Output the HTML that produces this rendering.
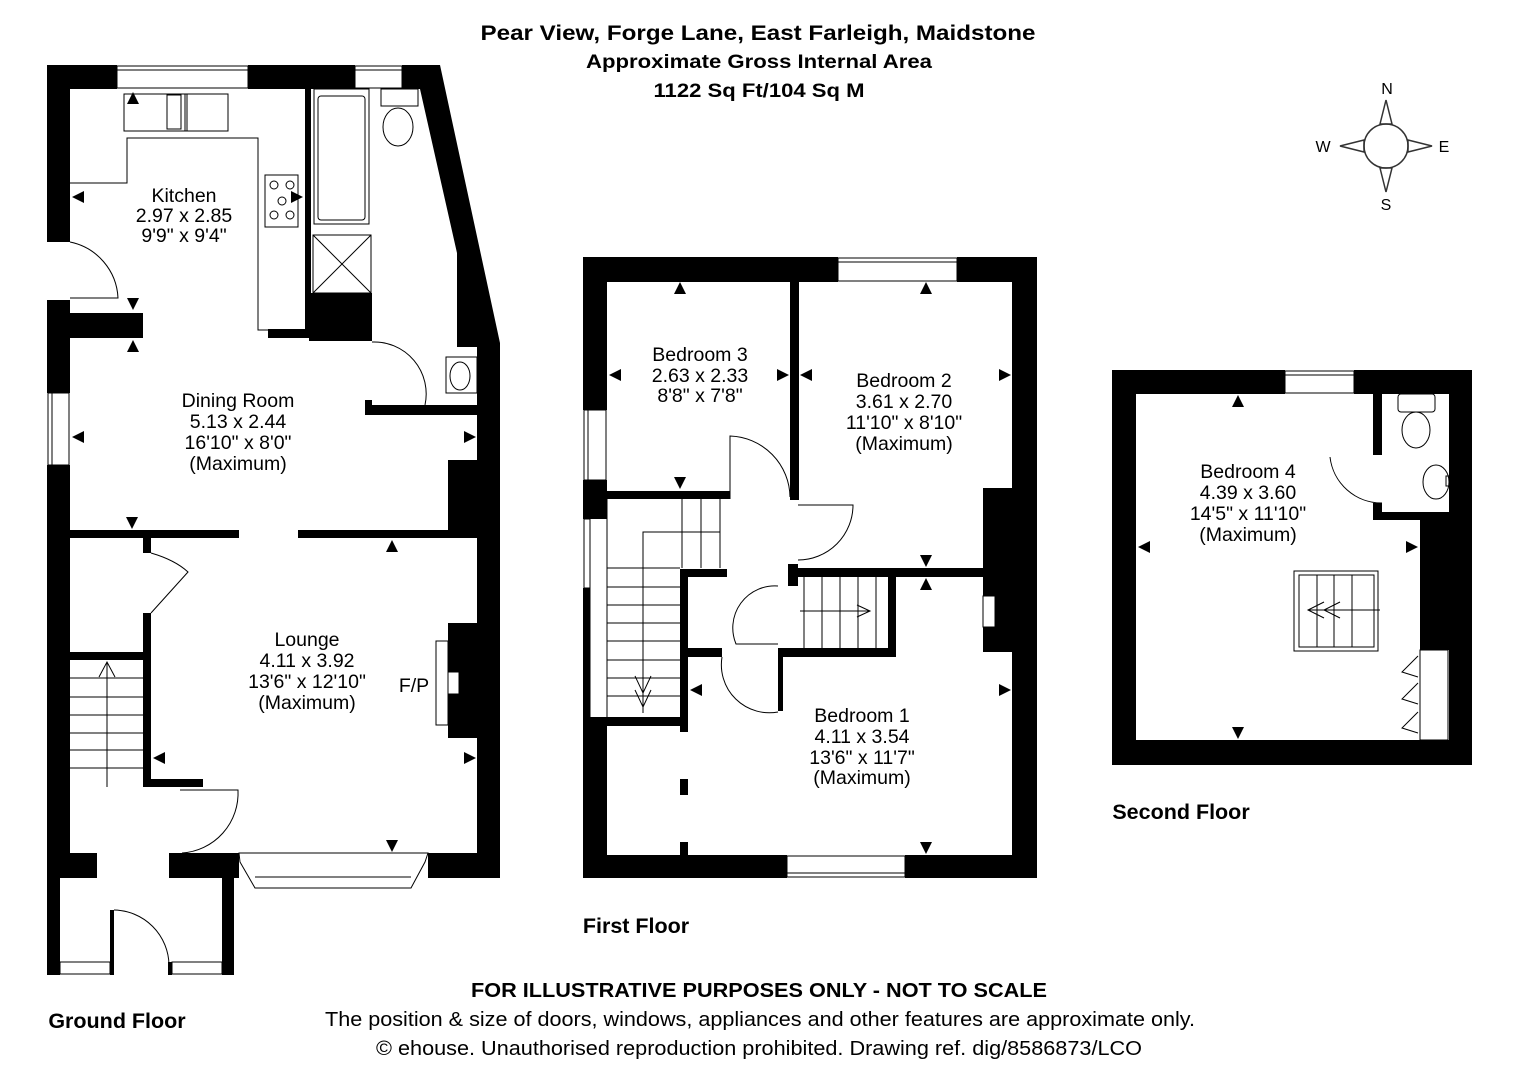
<!DOCTYPE html>
<html><head><meta charset="utf-8"><style>
html,body{margin:0;padding:0;background:#fff;}
svg{display:block;font-family:"Liberation Sans",sans-serif;}
</style></head><body>
<svg width="1526" height="1080" viewBox="0 0 1526 1080" xmlns="http://www.w3.org/2000/svg">
<rect width="1526" height="1080" fill="#fff"/>
<!-- Title -->
<g font-weight="bold" fill="#000" text-anchor="middle">
<text x="758" y="40" font-size="21" textLength="555" lengthAdjust="spacingAndGlyphs">Pear View, Forge Lane, East Farleigh, Maidstone</text>
<text x="759" y="68" font-size="19" textLength="346" lengthAdjust="spacingAndGlyphs">Approximate Gross Internal Area</text>
<text x="759" y="97" font-size="19" textLength="211" lengthAdjust="spacingAndGlyphs">1122 Sq Ft/104 Sq M</text>
</g>
<!-- Compass -->
<g stroke="#333" stroke-width="1.5" fill="none">
<circle cx="1386" cy="146" r="22"/>
<polygon points="1380,124 1386,100 1392,124"/>
<polygon points="1380,168 1386,192 1392,168"/>
<polygon points="1364,140 1340,146 1364,152"/>
<polygon points="1408,140 1432,146 1408,152"/>
</g>
<g font-size="16" fill="#000" text-anchor="middle">
<text x="1387" y="94">N</text><text x="1386" y="210">S</text><text x="1323" y="152">W</text><text x="1444" y="152">E</text>
</g>

<!-- ================= GROUND FLOOR ================= -->
<g fill="#000">
<rect x="47" y="65" width="70" height="24"/>
<rect x="248" y="65" width="107" height="24"/>
<polygon points="402,65 440,65 500,343 500,878 477,878 477,347 457,347 457,253 420,89 402,89"/>
<rect x="47" y="65" width="23" height="177"/>
<rect x="47" y="300" width="23" height="93"/>
<rect x="47" y="465" width="23" height="413"/>
<rect x="70" y="313" width="73" height="25"/>
<rect x="305" y="89" width="6" height="249"/>
<rect x="309" y="293" width="63" height="48"/>
<rect x="268" y="329" width="104" height="9"/>
<rect x="365" y="400" width="7" height="15"/>
<rect x="365" y="405" width="112" height="10"/>
<rect x="448" y="460" width="29" height="78"/>
<rect x="70" y="530" width="169" height="8"/>
<rect x="298" y="530" width="179" height="8"/>
<rect x="143" y="538" width="8" height="15"/>
<rect x="143" y="613" width="8" height="174"/>
<rect x="70" y="652" width="80" height="8"/>
<rect x="143" y="779" width="60" height="8"/>
<rect x="448" y="623" width="29" height="115"/>
<rect x="47" y="853" width="50" height="25"/>
<rect x="169" y="853" width="70" height="25"/>
<rect x="428" y="853" width="72" height="25"/>
<rect x="47" y="878" width="13" height="97"/>
<rect x="222" y="878" width="12" height="97"/>
<rect x="110" y="910" width="4" height="65"/>
<rect x="168" y="962" width="4" height="13"/>
</g>
<g fill="#fff" stroke="#000" stroke-width="1">
<rect x="448" y="672" width="11" height="22"/>
<rect x="436" y="641" width="12" height="84"/>
<rect x="60" y="962" width="50" height="12"/>
<rect x="172" y="962" width="50" height="12"/>
</g>
<g fill="none" stroke="#000" stroke-width="1">
<rect x="117" y="66" width="131" height="22"/><line x1="117" y1="70" x2="248" y2="70"/>
<rect x="355" y="66" width="47" height="22"/><line x1="355" y1="70" x2="402" y2="70"/>
<rect x="48" y="393" width="21" height="72"/><line x1="52" y1="393" x2="52" y2="465"/>
<polygon points="239,853 428,853 425,862 411,888 255,888 240,862"/>
<line x1="255" y1="877" x2="411" y2="877"/>
<polyline points="70,183 127,183 127,138 258,138 258,330 268,330"/>
<rect x="124" y="94" width="63" height="37"/><rect x="167" y="95" width="14" height="34"/><rect x="185" y="94" width="43" height="37"/>
<rect x="265" y="175" width="33" height="52"/>
<circle cx="274" cy="185" r="4"/><circle cx="290" cy="185" r="4"/><circle cx="282" cy="201" r="4"/><circle cx="274" cy="215" r="4"/><circle cx="290" cy="215" r="4"/>
<rect x="314" y="89" width="55" height="135"/><rect x="318" y="96" width="47" height="124" rx="3"/>
<rect x="313" y="235" width="58" height="58"/><line x1="313" y1="235" x2="371" y2="293"/><line x1="371" y1="235" x2="313" y2="293"/>
<rect x="381" y="89" width="37" height="17"/><ellipse cx="398" cy="127" rx="15" ry="19"/>
<rect x="446" y="357" width="31" height="36"/><ellipse cx="460" cy="376" rx="10" ry="14"/>
<path d="M70,242 A60,60 0 0 1 118,298 L70,298"/>
<path d="M372,342 A52,52 0 0 1 425,405"/>
<path d="M151,553 Q175,560 188,572 L151,613"/>
<path d="M180,790 L238,790 A60,60 0 0 1 182,853"/>
<path d="M114,910 A56,56 0 0 1 169,965"/>
<line x1="70" y1="678" x2="143" y2="678"/><line x1="70" y1="697" x2="143" y2="697"/><line x1="70" y1="715" x2="143" y2="715"/><line x1="70" y1="733" x2="143" y2="733"/><line x1="70" y1="750" x2="143" y2="750"/><line x1="70" y1="768" x2="143" y2="768"/>
<line x1="107" y1="787" x2="107" y2="662"/><polyline points="99,677 107,662 115,677"/>
</g>
<g fill="#000">
<polygon points="133,92 127,104 139,104"/>
<polygon points="72,197 84,191 84,203"/>
<polygon points="303,197 291,191 291,203"/>
<polygon points="133,310 127,298 139,298"/>
<polygon points="133,340 127,352 139,352"/>
<polygon points="72,437 84,431 84,443"/>
<polygon points="476,437 464,431 464,443"/>
<polygon points="132,529 126,517 138,517"/>
<polygon points="392,540 386,552 398,552"/>
<polygon points="392,852 386,840 398,840"/>
<polygon points="153,758 165,752 165,764"/>
<polygon points="476,758 464,752 464,764"/>
</g>
<g font-size="19.5" fill="#000" text-anchor="middle">
<text x="184" y="202">Kitchen</text><text x="184" y="222">2.97 x 2.85</text><text x="184" y="242">9'9" x 9'4"</text>
<text x="238" y="407">Dining Room</text><text x="238" y="428">5.13 x 2.44</text><text x="238" y="449">16'10" x 8'0"</text><text x="238" y="470">(Maximum)</text>
<text x="307" y="646">Lounge</text><text x="307" y="667">4.11 x 3.92</text><text x="307" y="688">13'6" x 12'10"</text><text x="307" y="709">(Maximum)</text>
<text x="414" y="692">F/P</text>
</g>
<text x="117" y="1028" font-size="21.5" font-weight="bold" text-anchor="middle">Ground Floor</text>

<!-- ================= FIRST FLOOR ================= -->
<g fill="#000">
<rect x="583" y="257" width="255" height="25"/>
<rect x="957" y="257" width="80" height="25"/>
<rect x="583" y="257" width="24" height="153"/>
<rect x="583" y="480" width="24" height="39"/>
<rect x="583" y="588" width="7" height="132"/>
<rect x="583" y="717" width="24" height="161"/>
<rect x="1012" y="257" width="25" height="621"/>
<rect x="583" y="855" width="204" height="23"/>
<rect x="905" y="855" width="132" height="23"/>
<rect x="790" y="282" width="9" height="218"/>
<rect x="583" y="491" width="147" height="8"/>
<rect x="788" y="568" width="195" height="9"/>
<rect x="788" y="564" width="10" height="22"/>
<rect x="983" y="488" width="29" height="164"/>
<rect x="680" y="569" width="47" height="8"/>
<rect x="680" y="569" width="8" height="163"/>
<rect x="598" y="717" width="90" height="9"/>
<rect x="688" y="648" width="34" height="9"/>
<rect x="778" y="648" width="118" height="9"/>
<rect x="778" y="648" width="5" height="63"/>
<rect x="888" y="577" width="8" height="79"/>
<rect x="680" y="779" width="8" height="16"/>
<rect x="680" y="842" width="8" height="15"/>
</g>
<g fill="#fff" stroke="#000" stroke-width="1">
<rect x="983" y="596" width="12" height="31"/>
</g>
<g fill="none" stroke="#000" stroke-width="1">
<rect x="838" y="258" width="119" height="23"/><line x1="838" y1="262" x2="957" y2="262"/>
<rect x="787" y="856" width="118" height="21"/><line x1="787" y1="873" x2="905" y2="873"/>
<rect x="584" y="410" width="22" height="70"/><line x1="588" y1="410" x2="588" y2="480"/>
<rect x="584" y="519" width="6" height="69"/>
<line x1="590" y1="499" x2="590" y2="717"/>
<polyline points="607,568 680,568"/>
<line x1="607" y1="499" x2="607" y2="717"/>
<line x1="682" y1="499" x2="682" y2="568"/><line x1="701" y1="499" x2="701" y2="568"/><line x1="720" y1="499" x2="720" y2="568"/>
<line x1="607" y1="587" x2="680" y2="587"/><line x1="607" y1="605" x2="680" y2="605"/><line x1="607" y1="623" x2="680" y2="623"/><line x1="607" y1="641" x2="680" y2="641"/><line x1="607" y1="660" x2="680" y2="660"/><line x1="607" y1="678" x2="680" y2="678"/><line x1="607" y1="696" x2="680" y2="696"/>
<polyline points="643,713 643,532 720,532"/>
<polyline points="635,676 643,693 651,676"/><polyline points="635,690 643,707 651,690"/>
<line x1="804" y1="577" x2="804" y2="648"/><line x1="822" y1="577" x2="822" y2="648"/><line x1="840" y1="577" x2="840" y2="648"/><line x1="858" y1="577" x2="858" y2="648"/><line x1="876" y1="577" x2="876" y2="648"/>
<line x1="800" y1="611" x2="870" y2="611"/><polyline points="857,605 870,611 857,617"/>
<path d="M730,499 L730,436 A62,62 0 0 1 790,497"/>
<path d="M798,505 L853,505 A55,55 0 0 1 798,560"/>
<path d="M778,644 L736,644 A42,42 0 0 1 778,586"/>
<path d="M722,657 A48,48 0 0 0 778,712"/>
</g>
<g fill="#000">
<polygon points="680,282 674,294 686,294"/>
<polygon points="680,489 674,477 686,477"/>
<polygon points="609,375 621,369 621,381"/>
<polygon points="789,375 777,369 777,381"/>
<polygon points="926,282 920,294 932,294"/>
<polygon points="926,567 920,555 932,555"/>
<polygon points="800,375 812,369 812,381"/>
<polygon points="1011,375 999,369 999,381"/>
<polygon points="926,578 920,590 932,590"/>
<polygon points="926,854 920,842 932,842"/>
<polygon points="690,690 702,684 702,696"/>
<polygon points="1011,690 999,684 999,696"/>
</g>
<g font-size="19.5" fill="#000" text-anchor="middle">
<text x="700" y="361">Bedroom 3</text><text x="700" y="382">2.63 x 2.33</text><text x="700" y="402">8'8" x 7'8"</text>
<text x="904" y="387">Bedroom 2</text><text x="904" y="408">3.61 x 2.70</text><text x="904" y="429">11'10" x 8'10"</text><text x="904" y="450">(Maximum)</text>
<text x="862" y="722">Bedroom 1</text><text x="862" y="743">4.11 x 3.54</text><text x="862" y="764">13'6" x 11'7"</text><text x="862" y="784">(Maximum)</text>
</g>
<text x="636" y="933" font-size="21.5" font-weight="bold" text-anchor="middle">First Floor</text>

<!-- ================= SECOND FLOOR ================= -->
<g fill="#000">
<rect x="1112" y="370" width="173" height="24"/>
<rect x="1354" y="370" width="118" height="24"/>
<rect x="1112" y="370" width="24" height="395"/>
<rect x="1449" y="370" width="23" height="395"/>
<rect x="1112" y="740" width="360" height="25"/>
<rect x="1373" y="394" width="9" height="61"/>
<rect x="1373" y="503" width="9" height="17"/>
<rect x="1373" y="512" width="76" height="8"/>
<rect x="1420" y="512" width="52" height="138"/>
</g>
<g fill="none" stroke="#000" stroke-width="1">
<rect x="1285" y="371" width="69" height="22"/><line x1="1285" y1="375" x2="1354" y2="375"/>
<rect x="1420" y="650" width="28" height="90"/>
<polyline points="1418,656 1402,672 1418,677"/><polyline points="1418,683 1402,699 1418,704"/><polyline points="1418,712 1402,728 1418,733"/>
<path d="M1330,457 A52,52 0 0 0 1382,503"/>
<rect x="1398" y="394" width="37" height="18" rx="3"/><ellipse cx="1416" cy="430" rx="14" ry="18"/>
<ellipse cx="1436" cy="482" rx="13" ry="17"/><rect x="1446" y="476" width="4" height="10"/>
<rect x="1294" y="571" width="84" height="80"/><rect x="1299" y="575" width="75" height="72"/>
<line x1="1317" y1="575" x2="1317" y2="647"/><line x1="1334" y1="575" x2="1334" y2="647"/><line x1="1352" y1="575" x2="1352" y2="647"/>
<line x1="1380" y1="610" x2="1308" y2="610"/><polyline points="1324,602 1308,610 1324,618"/><polyline points="1340,602 1324,610 1340,618"/>
</g>
<g fill="#000">
<polygon points="1238,395 1232,407 1244,407"/>
<polygon points="1238,739 1232,727 1244,727"/>
<polygon points="1138,547 1150,541 1150,553"/>
<polygon points="1418,547 1406,541 1406,553"/>
</g>
<g font-size="19.5" fill="#000" text-anchor="middle">
<text x="1248" y="478">Bedroom 4</text><text x="1248" y="499">4.39 x 3.60</text><text x="1248" y="520">14'5" x 11'10"</text><text x="1248" y="541">(Maximum)</text>
</g>
<text x="1181" y="819" font-size="21.5" font-weight="bold" text-anchor="middle">Second Floor</text>

<!-- Footer -->
<g fill="#000" text-anchor="middle">
<text x="759" y="997" font-size="20" font-weight="bold" textLength="576" lengthAdjust="spacingAndGlyphs">FOR ILLUSTRATIVE PURPOSES ONLY - NOT TO SCALE</text>
<text x="760" y="1026" font-size="20" textLength="870" lengthAdjust="spacingAndGlyphs">The position &amp; size of doors, windows, appliances and other features are approximate only.</text>
<text x="759" y="1055" font-size="20" textLength="766" lengthAdjust="spacingAndGlyphs">© ehouse. Unauthorised reproduction prohibited. Drawing ref. dig/8586873/LCO</text>
</g>
</svg>
</body></html>
